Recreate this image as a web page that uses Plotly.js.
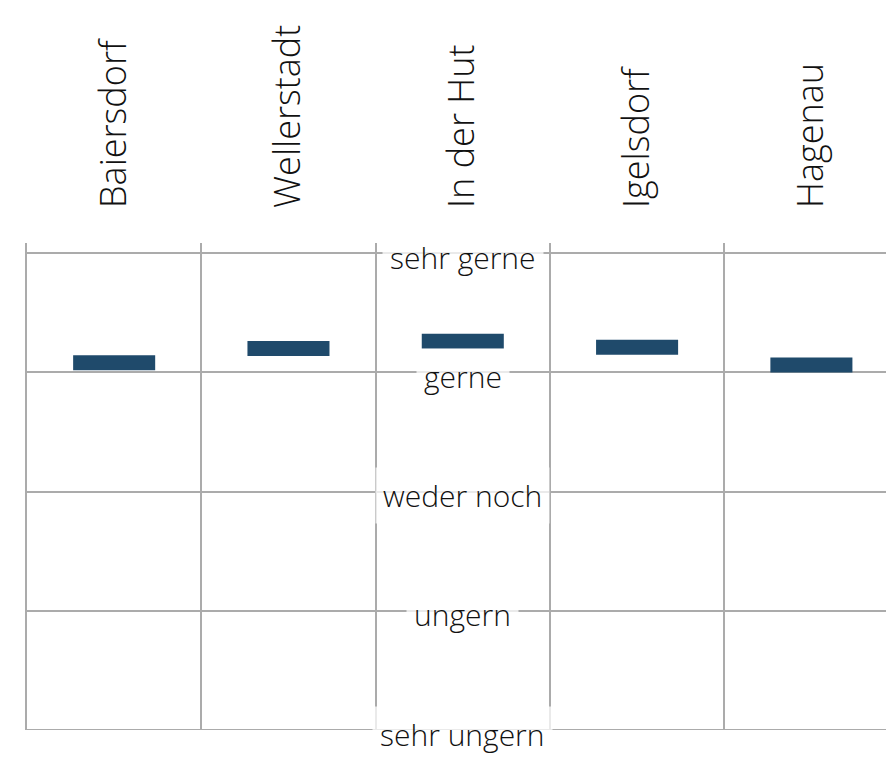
<!DOCTYPE html>
<html>
<head>
<meta charset="utf-8">
<script src="https://cdn.plot.ly/plotly-3.0.1.min.js"></script>
<style>html,body{margin:0;padding:0;background:#fff;}#chart{width:886px;height:759px;}</style>
</head>
<body>
<div id="chart"></div>
<script>
const categories = ["Baiersdorf", "Wellerstadt", "In der Hut", "Igelsdorf", "Hagenau"];
const values = [4.08, 4.20, 4.26, 4.21, 4.06];
const scaleValues = [5, 4, 3, 2, 1];
const scaleLabels = ["sehr gerne", "gerne", "weder noch", "ungern", "sehr ungern"];

const gridColor = "#ababab";
const trace = {
  type: "scatter",
  mode: "markers",
  x: categories,
  y: values,
  marker: {
    symbol: "line-ew",
    size: 58.6,
    color: "#1f4a6b",
    line: { color: "#1f4a6b", width: 15 }
  },
  hoverinfo: "x+y",
  showlegend: false,
  cliponaxis: false
};

const annotations = scaleLabels.map((t, i) => ({
  xref: "x", yref: "y",
  x: categories[2], y: scaleValues[i],
  text: t,
  showarrow: false,
  yshift: -4,
  bgcolor: "rgba(255,255,255,0.75)",
  borderpad: 7,
  font: { family: "Open Sans", size: 30, weight: 300, color: "#111" }
}));

const minScale = Math.min(...scaleValues);
const layout = {
  width: 886, height: 759,
  margin: { l: 27, r: 0, t: 243, b: 29, pad: 0 },
  paper_bgcolor: "#fff", plot_bgcolor: "#fff",
  xaxis: {
    type: "category",
    side: "top",
    range: [-0.5, 4.428],
    tickson: "boundaries",
    showgrid: true, gridcolor: gridColor, gridwidth: 2,
    ticks: "", tickangle: -90,
    ticklabelstandoff: 34,
    tickfont: { family: "Open Sans", size: 36, weight: 300, color: "#111" },
    showline: false, zeroline: false, fixedrange: true
  },
  yaxis: {
    range: [1, 5.084],
    tickvals: scaleValues,
    showticklabels: false,
    showgrid: true, gridcolor: gridColor, gridwidth: 2,
    ticks: "", showline: true, linecolor: gridColor, linewidth: 2,
    zeroline: false, fixedrange: true
  },
  shapes: [{
    type: "line", xref: "paper", yref: "y",
    x0: 0, x1: 1, y0: minScale, y1: minScale,
    line: { color: gridColor, width: 2 }, layer: "below"
  }],
  annotations: annotations
};

Plotly.newPlot("chart", [trace], layout, { displayModeBar: false, staticPlot: true });
</script>
</body>
</html>
